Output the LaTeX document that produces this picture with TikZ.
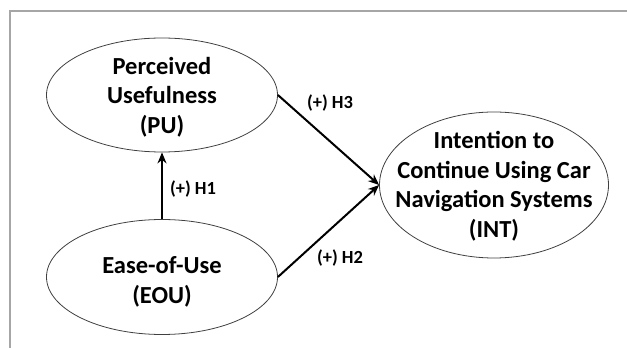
\documentclass[tikz,border=0pt]{standalone}
\usepackage{fontspec}
\setmainfont{Carlito}
\usetikzlibrary{shapes.geometric,arrows.meta}
\begin{document}
\begin{tikzpicture}[x=1pt,y=1pt,
  construct/.style={ellipse,draw=black!75,line width=0.8pt,inner sep=0pt},
  ctext/.style={align=center,inner sep=0pt,font=\fontsize{24.5}{29.5}\selectfont\bfseries},
  path/.style={line width=2pt,-{Stealth[length=11pt,width=9pt]}},
  hyp/.style={font=\fontsize{18.5}{22}\selectfont\bfseries}]
\useasboundingbox (0,0) rectangle (627,348);
\draw[draw=black!35,line width=1.2pt] (10,0) -- (10,337) -- (627,337);
\node[construct,minimum width=231pt,minimum height=114pt] (pu) at (162,253) {};
\node[construct,minimum width=231pt,minimum height=115pt] (eou) at (162,71) {};
\node[construct,minimum width=229pt,minimum height=146pt] (int) at (494,163) {};
\node[ctext] (putext) at ([yshift=-2pt]pu.center) {Perceived\\Usefulness\\(PU)};
\node[ctext] (eoutext) at ([yshift=-5pt]eou.center) {Ease-of-Use\\(EOU)};
\node[ctext] (inttext) at ([yshift=-1pt]int.center) {Intention to\\Continue Using Car\\Navigation Systems\\(INT)};
\draw[path] (eou.north) -- (pu.south);
\draw[path] (pu.east) -- (int.west);
\draw[path] (eou.east) -- (int.west);
\node[hyp] (h1) at (193,159) {(+) H1};
\node[hyp] (h3) at (330,245) {(+) H3};
\node[hyp] (h2) at (340,90) {(+) H2};
\end{tikzpicture}
\end{document}
